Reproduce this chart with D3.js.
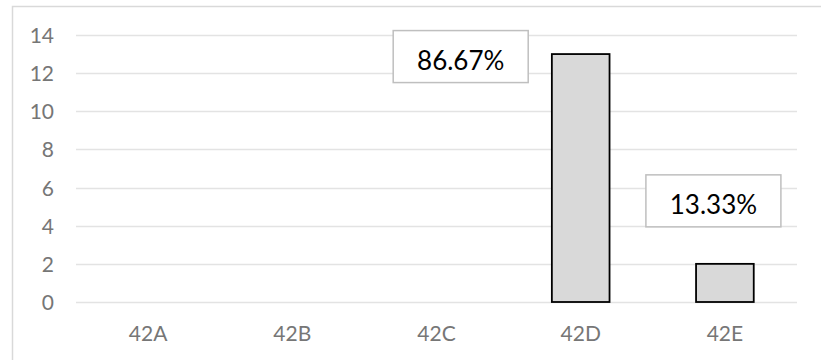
<!DOCTYPE html>
<html>
<head>
<meta charset="utf-8">
<script src="https://cdn.jsdelivr.net/npm/d3@7/dist/d3.min.js"></script>
<style>
  html, body { margin: 0; padding: 0; background: #fff; }
  svg { display: block; font-family: Lato, "Open Sans", "Liberation Sans", sans-serif; }
</style>
</head>
<body>
<svg id="chart" width="821" height="360"></svg>
<script>
// Counts per group
const categories = ["42A", "42B", "42C", "42D", "42E"];
const counts = [0, 0, 0, 13, 2];
const yTicks = [0, 2, 4, 6, 8, 10, 12, 14];

// Percentage labels are derived from the counts
const total = d3.sum(counts);
const pctLabels = counts.map(v => (v / total * 100).toFixed(2) + "%");

// Label boxes were dragged away from their bars: offset of box centre / top from bar centre / top
const labelOffsets = { "42D": { dx: -120, dy: -23.5 }, "42E": { dx: -11.5, dy: -89 } };

const svg = d3.select("#chart");
const W = 821, H = 360;
const plot = { left: 76, right: 797, top: 35, bottom: 302 };

// Chart-area frame (runs off the right and bottom edges)
svg.append("rect")
  .attr("x", 12.5).attr("y", 6.5)
  .attr("width", W + 20).attr("height", H + 20)
  .attr("fill", "#fff")
  .attr("stroke", "#d9d9d9").attr("stroke-width", 1.5);

const x = d3.scaleBand()
  .domain(categories)
  .range([plot.left, plot.right])
  .paddingInner(0.6).paddingOuter(0.3);

const y = d3.scaleLinear()
  .domain([0, 14])
  .range([plot.bottom, plot.top]);

// Horizontal gridlines
svg.append("g")
  .selectAll("line")
  .data(yTicks)
  .join("line")
  .attr("x1", plot.left).attr("x2", plot.right)
  .attr("y1", d => Math.round(y(d)) + 0.5).attr("y2", d => Math.round(y(d)) + 0.5)
  .attr("stroke", "#e3e3e3").attr("stroke-width", 1.3);

// Y axis labels
const yAxis = d3.axisLeft(y).tickValues(yTicks).tickSize(0).tickPadding(0);
const gy = svg.append("g").attr("transform", `translate(54,0)`).call(yAxis);
gy.select(".domain").remove();
gy.selectAll("text")
  .attr("font-family", "Lato, 'Open Sans', sans-serif")
  .attr("font-size", 21).attr("fill", "#767676")
  .attr("dy", "0.36em");

// X axis labels
const xAxis = d3.axisBottom(x).tickSize(0).tickPadding(0);
const gx = svg.append("g").attr("transform", `translate(0,${plot.bottom})`).call(xAxis);
gx.select(".domain").remove();
gx.selectAll("text")
  .attr("font-family", "Lato, 'Open Sans', sans-serif")
  .attr("font-size", 21).attr("fill", "#767676")
  .attr("dy", 0).attr("y", 39);

const rows = categories.map((c, i) => ({ cat: c, value: counts[i], label: pctLabels[i] }))
  .filter(d => d.value > 0);

// Bars
svg.append("g")
  .selectAll("rect")
  .data(rows)
  .join("rect")
  .attr("x", d => x(d.cat))
  .attr("y", d => y(d.value))
  .attr("width", x.bandwidth())
  .attr("height", d => y(0) - y(d.value))
  .attr("fill", "#d9d9d9")
  .attr("stroke", "#000").attr("stroke-width", 1.8);

// Percentage label boxes
const boxW = 135, boxH = 52;
const lbl = svg.append("g")
  .selectAll("g")
  .data(rows)
  .join("g")
  .attr("transform", d => {
    const o = labelOffsets[d.cat] || { dx: 0, dy: -boxH - 6 };
    const cx = x(d.cat) + x.bandwidth() / 2 + o.dx;
    const top = y(d.value) + o.dy;
    return `translate(${cx},${top})`;
  });

lbl.append("rect")
  .attr("x", -boxW / 2).attr("y", 0)
  .attr("width", boxW).attr("height", boxH)
  .attr("fill", "#fff")
  .attr("stroke", "#bfbfbf").attr("stroke-width", 1.5);

lbl.append("text")
  .attr("x", 0).attr("y", 39)
  .attr("text-anchor", "middle")
  .attr("font-size", 26).attr("fill", "#000")
  .text(d => d.label);
</script>
</body>
</html>
